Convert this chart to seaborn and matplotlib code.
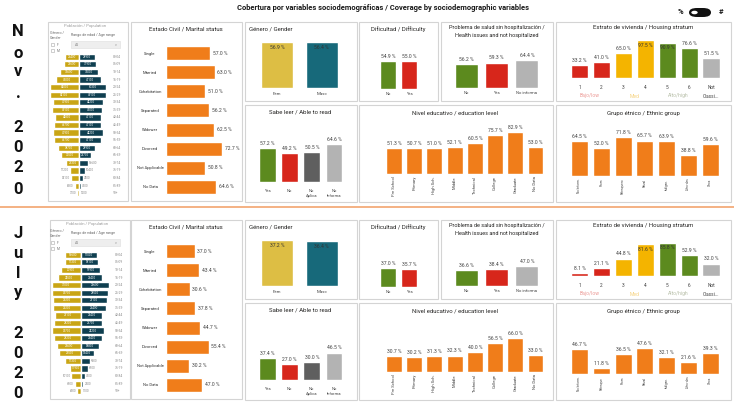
import numpy as np
import pandas as pd
import matplotlib
matplotlib.use("Agg")
import matplotlib.pyplot as plt
import seaborn as sns
from matplotlib.patches import Rectangle, FancyBboxPatch, Circle
from matplotlib.lines import Line2D

sns.set_theme(style="white")
plt.rcParams["font.family"] = ["Roboto", "DejaVu Sans"]

# ---------------- data ----------------
ages = ["00-04", "05-09", "10-14", "15-19", "20-24", "25-29", "30-34", "35-39", "40-44",
        "45-49", "50-54", "55-59", "60-64", "65-69", "70-74", "75-79", "80-84", "85-89", "90+"]
nov_fem = [26400, 27600, 35600, 43000, 54000, 54100, 47900, 49100, 44800, 46700,
           47900, 46700, 38700, 32500, 23300, 17200, 14100, 8000, 3700]
nov_masc = [28900, 31900, 35000, 41100, 50300, 49100, 44200, 43000, 41100, 41100,
            44200, 41100, 28900, 22700, 16600, 10400, 7400, 4300, 1200]
jul_fem = [16600, 17300, 20900, 24500, 31000, 30700, 29200, 29200, 27100, 28200,
           30700, 28200, 25600, 23500, 17300, 11900, 10100, 6500, 4000]
jul_masc = [17000, 18100, 19900, 22400, 29600, 28500, 27100, 26400, 22400, 21700,
            24200, 22400, 18800, 13400, 9000, 6900, 4300, 2500, 1100]

marital_cats = ["Single", "Married", "Cohabitation", "Separated", "Widower",
                "Divorced", "Not Applicable", "No Data"]
marital_nov = [57.0, 63.0, 51.0, 56.2, 62.5, 72.7, 50.8, 64.6]
marital_jul = [37.0, 43.4, 30.6, 37.8, 44.7, 55.4, 30.2, 47.0]

gender_cats = ["Fem", "Masc"]
gender_nov = [56.9, 56.4]
gender_jul = [37.2, 36.4]

diff_cats = ["No", "Yes"]
diff_nov = [54.9, 55.0]
diff_jul = [37.0, 35.7]

health_cats = ["No", "Yes", "No informa"]
health_nov = [56.2, 59.3, 64.4]
health_jul = [36.6, 38.4, 47.0]

house_cats = ["1", "2", "3", "4", "5", "6", "Not"]
house_nov = [33.2, 41.0, 65.0, 97.5, 90.9, 76.6, 51.5]
house_jul = [8.1, 21.1, 44.8, 81.6, 85.8, 52.9, 32.0]

read_cats = ["Yes", "No", "No\nAplica", "No\nInforma"]
read_nov = [57.2, 49.2, 50.5, 64.6]
read_jul = [37.4, 27.0, 30.0, 46.5]

edu_cats = ["Pre School", "Primary", "High Sch.", "Middle", "Technical",
            "College", "Graduate", "No Data"]
edu_nov = [51.3, 50.7, 51.0, 52.1, 60.5, 75.7, 82.9, 53.0]
edu_jul = [30.7, 30.2, 31.3, 32.3, 40.0, 56.5, 66.0, 33.0]

eth_nov_cats = ["No Inform.", "Rrom", "Palenquero", "Raizal", "Indígen.", "Afro-des", "Otros"]
eth_nov = [64.5, 52.0, 71.8, 65.7, 63.9, 38.8, 59.6]
eth_jul_cats = ["No Inform.", "Palenque", "Rrom", "Raizal", "Indígen.", "Afro-des", "Otros"]
eth_jul = [46.7, 11.8, 36.5, 47.6, 32.1, 21.6, 39.3]

# ---------------- colours ----------------
orange = "#F07D1A"
fem_c, masc_c = "#DDBE44", "#17697A"
py_gold, py_teal = "#C9A514", "#0F3F50"
green, red, gray, dgray, yellow = "#5C8A1E", "#D7261B", "#B3B3B3", "#5F5F5F", "#F4B400"
txt = "#404040"

W, H = 734, 405
fig = plt.figure(figsize=(W / 100, H / 100), dpi=100)
fig.patch.set_facecolor("white")


def px_axes(x0, y0, x1, y1):
    ax = fig.add_axes([x0 / W, 1 - y1 / H, (x1 - x0) / W, (y1 - y0) / H])
    ax.set_facecolor("none")
    return ax


def panel(x0, y0, x1, y1):
    fig.add_artist(Rectangle((x0 / W, 1 - y1 / H), (x1 - x0) / W, (y1 - y0) / H,
                             transform=fig.transFigure, fill=False, ec="#d4d4d4", lw=0.8))


def ftext(x, y, s, **kw):
    kw.setdefault("ha", "center")
    kw.setdefault("va", "center")
    fig.text(x / W, 1 - y / H, s, **kw)


def vbar(x0, x1, top, base, ymax, cats, vals, colors, width=0.76, inside=None,
         rot=0, labfs=3.0, pad=2.0):
    ax = px_axes(x0, top, x1, base)
    sns.barplot(x=cats, y=vals, hue=cats, palette=colors, legend=False,
                saturation=1, width=width, ax=ax)
    ax.set_ylim(0, ymax)
    ax.set_xlim(-0.5, len(cats) - 0.5)
    sns.despine(ax=ax, left=True, bottom=True)
    ax.set_yticks([])
    ax.set_xlabel("")
    ax.set_ylabel("")
    ax.tick_params(axis="x", length=0, pad=pad, labelsize=labfs, labelcolor=txt,
                   rotation=rot)
    for i, v in enumerate(vals):
        if inside is not None and v >= inside:
            ax.annotate(f"{v:.1f} %", (i, v), xytext=(0, -2), textcoords="offset points",
                        ha="center", va="top", fontsize=3.6, color="#333333")
        else:
            ax.annotate(f"{v:.1f} %", (i, v), xytext=(0, 1.5), textcoords="offset points",
                        ha="center", va="bottom", fontsize=3.6, color=txt)
    return ax


def hbar(x0, y0, x1, y1, vals, xmax):
    ax = px_axes(x0, y0, x1, y1)
    sns.barplot(x=vals, y=marital_cats, orient="h", color=orange, width=0.73,
                saturation=1, ax=ax)
    ax.set_xlim(0, xmax)
    sns.despine(ax=ax, left=True, bottom=True)
    ax.set_xticks([])
    ax.set_xlabel("")
    ax.set_ylabel("")
    ax.set_yticks(range(len(marital_cats)))
    ax.set_yticklabels(marital_cats, ha="center")
    ax.tick_params(axis="y", length=0, pad=11.5, labelsize=3.0, labelcolor="#333333")
    for c in ax.containers:
        ax.bar_label(c, fmt="%.1f %%", padding=2, fontsize=3.6, color=txt)


def pyramid(x0, y0, x1, y1, fem, masc):
    ax = px_axes(x0, y0, x1, y1)
    df = pd.DataFrame({"age": ages, "fem": [-v for v in fem], "masc": masc})
    sns.barplot(data=df, x="fem", y="age", orient="h", color=py_gold, width=0.82,
                saturation=1, ax=ax)
    sns.barplot(data=df, x="masc", y="age", orient="h", color=py_teal, width=0.82,
                saturation=1, ax=ax)
    lim = max(max(fem), max(masc)) * 1.09
    ax.set_xlim(-lim, lim)
    ax.axis("off")
    ppx = 2 * lim / (x1 - x0)
    for i, (f, m) in enumerate(zip(fem, masc)):
        if f / ppx > 11:
            ax.text(-f / 2, i, f"{f}", color="white", fontsize=2.2, ha="center", va="center")
        else:
            ax.text(-f - ppx, i, f"{f}", color="#888888", fontsize=2.2, ha="right", va="center")
        if m / ppx > 11:
            ax.text(m / 2, i, f"{m}", color="white", fontsize=2.2, ha="center", va="center")
        else:
            ax.text(m + ppx, i, f"{m}", color="#888888", fontsize=2.2, ha="left", va="center")
        ax.text(lim * 1.06, i, ages[i], color="#8a8a8a", fontsize=2.3, ha="left", va="center")


def pyramid_header(dy, cx):
    ftext(cx + 6, 26 + dy, "Población / Population", fontsize=3.0, color="#9a9a9a")
    ftext(50, 33 + dy, "Género /", fontsize=2.6, color="#666666", ha="left")
    ftext(50, 38 + dy, "Gender", fontsize=2.6, color="#666666", ha="left")
    ftext(71, 35 + dy, "Rango de edad / Age range", fontsize=2.6, color="#666666", ha="left")
    for k, lab in enumerate(["F", "M"]):
        yy = 43 + 6 * k + dy
        fig.add_artist(Rectangle((51 / W, 1 - (yy + 3) / H), 3 / W, 3 / H,
                                 transform=fig.transFigure, fill=False, ec="#aaaaaa", lw=0.4))
        ftext(57, yy + 1.5, lab, fontsize=2.4, color="#777777", ha="left")
    fig.add_artist(Rectangle((71 / W, 1 - (48 + dy) / H), 49 / W, 7 / H,
                             transform=fig.transFigure, fc="#eeeeee", ec="#dddddd", lw=0.4))
    ftext(75, 44.5 + dy, "All", fontsize=2.6, color="#777777", ha="left")
    ftext(116, 44.5 + dy, "v", fontsize=2.8, color="#999999")


# ---------------- title & switch ----------------
ftext(383, 8, "Cobertura por variables sociodemográficas / Coverage by sociodemographic variables",
      fontsize=5.4, fontweight="bold", color="#1a1a1a")
ftext(680, 12, "%", fontsize=5.5, fontweight="bold", color="#1a1a1a")
fig.add_artist(FancyBboxPatch((689 / W, 1 - 17 / H), 22 / W, 9 / H,
                              boxstyle="round,pad=0,rounding_size=0.011",
                              transform=fig.transFigure, fc="#111111", ec="none"))
fig.add_artist(Circle((694.5 / W, 1 - 12.5 / H), 3.2 / W, transform=fig.transFigure,
                      fc="white", ec="none"))
ftext(721, 12, "#", fontsize=5.5, fontweight="bold", color="#1a1a1a")

# separator between the two periods
fig.add_artist(Line2D([0, 1], [1 - 207 / H, 1 - 207 / H], transform=fig.transFigure,
                      color="#F4B183", lw=1.4))

# big period letters
for ch, yy in zip("Nov.2020", [32, 53, 72, 93, 128, 148, 168, 190]):
    ftext(18, yy, ch, fontsize=12, fontweight="bold", color="#111111")
for ch, yy in zip("July2020", [233, 253, 273, 292, 333, 354, 374, 393]):
    ftext(18, yy, ch, fontsize=12, fontweight="bold", color="#111111")

house_cols = [red, red, yellow, yellow, green, green, gray]

for dy, pf, pm, cx, mar, gen, dif, hea, hou, rea, edu, ethc, eth in [
        (0, nov_fem, nov_masc, 79, marital_nov, gender_nov, diff_nov, health_nov,
         house_nov, read_nov, edu_nov, eth_nov_cats, eth_nov),
        (198, jul_fem, jul_masc, 81, marital_jul, gender_jul, diff_jul, health_jul,
         house_jul, read_jul, edu_jul, eth_jul_cats, eth_jul)]:
    # population pyramid
    panel(cx - 31, 22 + dy, cx + 49, 201 + dy)
    pyramid_header(dy, cx)
    pyramid(cx - 32, 53 + dy, cx + 32, 197 + dy, pf, pm)

    # marital status
    panel(131, 22 + dy, 242, 201 + dy)
    ftext(186, 29 + dy, "Estado Civil / Marital status", fontsize=4.3, color="#252423")
    hbar(166, 43.5 + dy, 240, 196.5 + dy, mar, 96)

    # gender
    panel(245, 22 + dy, 357, 101 + dy)
    ftext(249, 29 + dy, "Género / Gender", fontsize=4.3, color="#252423", ha="left")
    vbar(255, 344, 42 + dy, 88 + dy, max(gen), gender_cats, gen, [fem_c, masc_c],
         width=0.71, inside=0, labfs=3.2, pad=3.0)

    # difficulty
    panel(359, 22 + dy, 438, 101 + dy)
    ftext(398, 29 + dy, "Dificultad / Difficulty", fontsize=4.3, color="#252423")
    vbar(377.5, 419.5, 45 + dy, 89 + dy, 44 / 0.51, diff_cats, dif, [green, red],
         width=0.76, labfs=3.0, pad=2.5)

    # health
    panel(441, 22 + dy, 553, 101 + dy)
    ftext(497, 27 + dy, "Problema de salud sin hospitalización /", fontsize=4.0, color="#252423")
    ftext(497, 36 + dy, "Health issues and not hospitalized", fontsize=4.0, color="#252423")
    vbar(451.5, 542, 50 + dy, 88 + dy, 38 / 0.43, health_cats, hea, [green, red, gray],
         width=0.76, labfs=3.0, pad=2.0)

    # housing stratum
    panel(556, 22 + dy, 731, 101 + dy)
    ftext(643, 28 + dy, "Estrato de vivienda / Housing stratum", fontsize=4.3, color="#252423")
    vbar(568.5, 722, 36 + dy, 78 + dy, 42 / 0.39, house_cats, hou, house_cols,
         width=0.78, inside=80, labfs=3.4, pad=5.0)
    ftext(711, 96 + dy, "Classi...", fontsize=3.4, color=txt)
    ftext(590, 96 + dy, "Bajo/low", fontsize=3.6, color="#EC9A96")
    ftext(634, 96 + dy, "Med", fontsize=3.6, color="#F6D27E")
    ftext(678, 96 + dy, "Alto/high", fontsize=3.6, color="#B7BFA8")

    # able to read
    panel(245, 105 + dy, 357, 202 + dy)
    ftext(300, 112 + dy, "Sabe leer / Able to read", fontsize=4.3, color="#252423")
    vbar(256.4, 345, 130 + dy, 182 + dy, 52 / 0.59, read_cats, rea, [green, red, dgray, gray],
         width=0.76, labfs=3.0, pad=5.0)

    # education level
    panel(359, 105 + dy, 553, 202 + dy)
    ftext(455, 113 + dy, "Nivel educativo / education level", fontsize=4.3, color="#252423")
    vbar(383.9, 545.6, 122 + dy, 174 + dy, 52 / 0.51, edu_cats, edu, [orange] * 8,
         width=0.79, rot=90, labfs=3.0, pad=1.5)

    # ethnic group
    panel(556, 105 + dy, 731, 202 + dy)
    ftext(643, 113 + dy, "Grupo étnico / Ethnic group", fontsize=4.3, color="#252423")
    vbar(568.6, 721, 122 + dy, 176 + dy, 54 / 0.54, ethc, eth, [orange] * 7,
         width=0.78, rot=90, labfs=2.2, pad=2.0)

fig.savefig("out.png", dpi=100)
